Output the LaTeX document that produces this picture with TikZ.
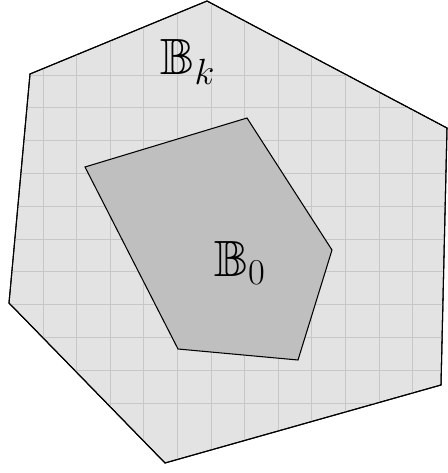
\documentclass[tikz,border=0pt]{standalone}
\usepackage{amsmath}
\usepackage{amssymb}
\usepackage{xcolor}
\usetikzlibrary{positioning,calc}
\tikzset{
  regionk/.style={fill=black!11,draw=black,line width=0.6pt},
  region0/.style={fill=black!25,draw=black,line width=0.6pt},
  gridline/.style={black!22,line width=0.5pt},
  setlab/.style={font=\fontsize{29}{32}\selectfont,inner sep=0pt}
}

\begin{document}
\begin{tikzpicture}[x=0.02cm,y=-0.02cm]
  \useasboundingbox (0,0) rectangle (448,473);
  % outer set B_k
  \coordinate (k1) at (207,1);
  \coordinate (k2) at (30,74);
  \coordinate (k3) at (9,303);
  \coordinate (k4) at (165,463);
  \coordinate (k5) at (441,385);
  \coordinate (k6) at (447,128);
  \fill[regionk] (k1)--(k2)--(k3)--(k4)--(k5)--(k6)--cycle;
  \begin{scope}
    \clip (k1)--(k2)--(k3)--(k4)--(k5)--(k6)--cycle;
    \foreach \i in {0,...,11}
      \draw[gridline] (43+33.6*\i,0)--(43+33.6*\i,473);
    \foreach \j in {0,...,10}
      \draw[gridline] (0,75+32.8*\j)--(448,75+32.8*\j);
  \end{scope}
  \draw[regionk,fill=none] (k1)--(k2)--(k3)--(k4)--(k5)--(k6)--cycle;
  % inner set B_0
  \coordinate (z1) at (85,167);
  \coordinate (z2) at (247,118);
  \coordinate (z3) at (332,250);
  \coordinate (z4) at (298,360);
  \coordinate (z5) at (178,349);
  \draw[region0] (z1)--(z2)--(z3)--(z4)--(z5)--cycle;
  \node[setlab] (labk) at (188,62) {$\mathbb{B}_k$};
  \node[setlab] (lab0) at (240,263) {$\mathbb{B}_0$};
\end{tikzpicture}
\end{document}
